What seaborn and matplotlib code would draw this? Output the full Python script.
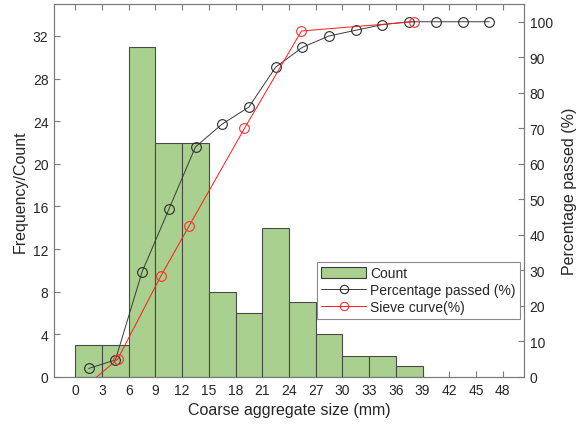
import numpy as np
import pandas as pd
import matplotlib
matplotlib.use("Agg")
import matplotlib.pyplot as plt
from matplotlib.patches import Patch
from matplotlib.lines import Line2D
import seaborn as sns

# Histogram of coarse aggregate sizes (3 mm bins)
bin_edges = [0, 3, 6, 9, 12, 15, 18, 21, 24, 27, 30, 33, 36, 39]
bin_centers = [1.5, 4.5, 7.5, 10.5, 13.5, 16.5, 19.5, 22.5, 25.5, 28.5, 31.5, 34.5, 37.5]
counts = [3, 3, 31, 22, 22, 8, 6, 14, 7, 4, 2, 2, 1]

# Cumulative percentage passed
passed_size = [1.5, 4.5, 7.5, 10.5, 13.5, 16.5, 19.5, 22.5, 25.5, 28.5,
               31.5, 34.5, 37.5, 40.5, 43.5, 46.5]
passed_pct = [2.4, 4.8, 29.6, 47.2, 64.8, 71.2, 76.0, 87.2, 92.8, 96.0,
              97.6, 99.2, 100.0, 100.0, 100.0, 100.0]

# Sieve grading curve
sieve_size = [2.4, 4.75, 9.6, 12.75, 19.0, 25.4, 38.0]
sieve_pct = [0.0, 5.0, 28.4, 42.4, 70.0, 97.4, 100.0]

x_ticks = list(range(0, 49, 3))
count_ticks = list(range(0, 33, 4))
pct_ticks = list(range(0, 101, 10))

sns.set_theme(style="white")
plt.rcParams["font.family"] = ["Liberation Sans", "DejaVu Sans"]

text_col = "#262626"
spine_col = "#7a7a7a"

fig = plt.figure(figsize=(5.8, 4.27), dpi=100)
ax = fig.add_axes([0.0931, 0.1148, 0.8103, 0.8735])

hist_df = pd.DataFrame({"size": bin_centers, "count": counts})
sns.histplot(data=hist_df, x="size", weights="count", bins=bin_edges,
             color="#a9d08e", alpha=1.0, edgecolor="#4a4a4a", linewidth=0.8,
             ax=ax)

ax.set_xlim(-2.4, 50.4)
ax.set_ylim(0, 35)
ax.set_xticks(x_ticks)
ax.set_yticks(count_ticks)
ax.set_xlabel("Coarse aggregate size (mm)", fontsize=11.5, color=text_col, labelpad=4)
ax.set_ylabel("Frequency/Count", fontsize=11.5, color=text_col, labelpad=4)

ax2 = ax.twinx()
ax2.set_position(ax.get_position())

sns.lineplot(x=passed_size, y=passed_pct, ax=ax2, color="#3a3a3a", linewidth=0.7,
             marker="o", markersize=7, markerfacecolor="none",
             markeredgecolor="#2a2a2a", markeredgewidth=0.8, sort=False)
sns.lineplot(x=sieve_size, y=sieve_pct, ax=ax2, color="#ff1a1a", linewidth=0.7,
             marker="o", markersize=7, markerfacecolor="none",
             markeredgecolor="#ff3030", markeredgewidth=0.8,
             markevery=list(range(1, len(sieve_size))), sort=False)

ax2.set_ylim(0, 105)
ax2.set_yticks(pct_ticks)
ax2.set_ylabel("Percentage passed (%)", fontsize=11.5, color=text_col, labelpad=7)

for a in (ax, ax2):
    for s in a.spines.values():
        s.set_color(spine_col)
        s.set_linewidth(0.8)
        s.set_visible(True)
    a.tick_params(direction="in", length=4, width=0.8, color=spine_col,
                  labelsize=10, labelcolor=text_col, pad=4)
ax.tick_params(axis="x", top=True, bottom=True)
ax.tick_params(axis="y", left=True, right=False)
ax2.tick_params(axis="y", right=True, left=False)

handles = [
    Patch(facecolor="#a9d08e", edgecolor="#3a3a3a", linewidth=0.8),
    Line2D([0], [0], color="#3a3a3a", linewidth=0.7, marker="o", markersize=6,
           markerfacecolor="none", markeredgecolor="#2a2a2a", markeredgewidth=0.8),
    Line2D([0], [0], color="#ff1a1a", linewidth=0.7, marker="o", markersize=6,
           markerfacecolor="none", markeredgecolor="#ff3030", markeredgewidth=0.8),
]
labels = ["Count", "Percentage passed (%)", "Sieve curve(%)"]
leg = ax2.legend(handles, labels, loc="upper right", bbox_to_anchor=(0.991, 0.308),
                 fontsize=10, frameon=True, fancybox=False, framealpha=1.0,
                 edgecolor="#8a8a8a", handlelength=3.2, handleheight=0.9,
                 handletextpad=0.3, labelspacing=0.22, borderpad=0.3,
                 borderaxespad=0.0)
leg.get_frame().set_linewidth(0.8)
for t in leg.get_texts():
    t.set_color(text_col)

fig.savefig("out.png", dpi=100)
